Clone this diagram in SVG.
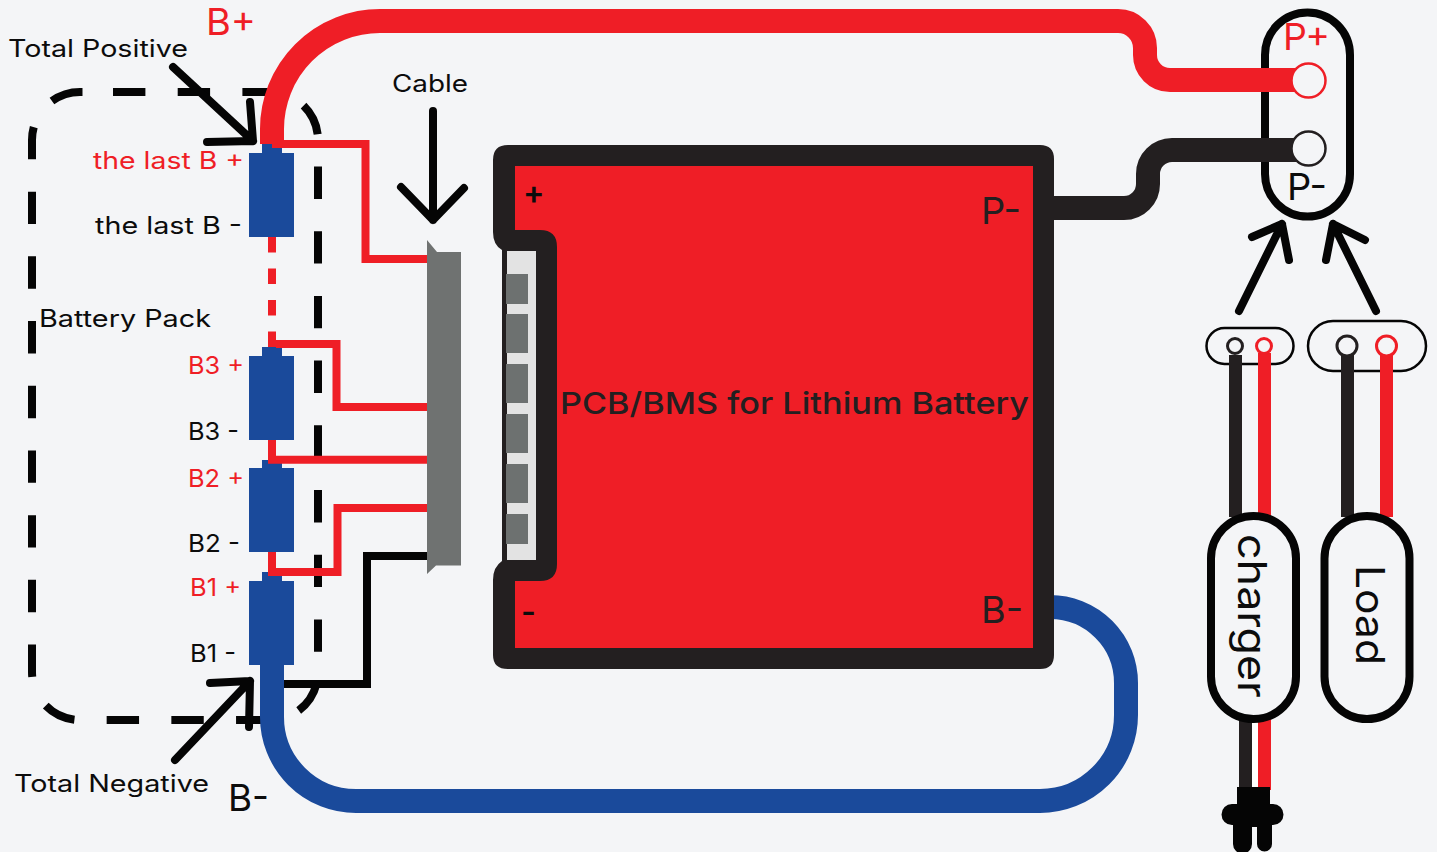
<svg xmlns="http://www.w3.org/2000/svg" width="1437" height="852" viewBox="0 0 1437 852">
<style>
text{font-family:Inter,"DejaVu Sans",sans-serif;fill:#0c0c0c}
.r{fill:#ef1e26}.d{fill:#231f20}
.lab{font-size:24px}.big{font-size:37px}
.line{fill:none;stroke-linejoin:miter}
.wr{stroke:#ef1e26;stroke-width:8}.wk{stroke:#050505;stroke-width:8}
.thick{stroke-width:24}
.arrow{fill:none;stroke:#050505;stroke-width:8;stroke-linecap:round;stroke-linejoin:round}
.cell{fill:#1a4a9b}
.pill{fill:#f4f5f7;stroke:#050505;stroke-width:8}
.term{fill:#6d7170}
</style>
<rect width="1437" height="852" fill="#f4f5f7"/>
<g id="pack-outline"><path d="M113 92H270A48 48 0 0 1 318 140V672A48 48 0 0 1 270 720H80A48 48 0 0 1 32 672V140A48 48 0 0 1 80 92Z" fill="none" stroke="#050505" stroke-width="8" stroke-dasharray="32.4 32.3"/></g>
<g id="arrows">
<path class="arrow" d="M173 67L253 141M207 142L253 141L250 102"/>
<path class="arrow" d="M175 760L250 681M210 683L250 681L249 727"/>
<path class="arrow" d="M433 111V220M401 187L433 220L464 188"/>
<path class="arrow" d="M1239 311L1282 224M1252 237L1282 224L1289 260"/>
<path class="arrow" d="M1376 311L1333 224M1365 240L1333 224L1326 260"/>
</g>
<g id="connector"><polygon points="427,240 437,252 461,252 461,565.500 436,565.500 427,574" fill="#6f7271"/></g>
<g id="batteries">
<g id="cell-last"><path class="cell" d="M262 144H282V153H294V237H249V153H262Z"/></g>
<g id="cell-b3"><path class="cell" d="M262 347H282V356H294V440H249V356H262Z"/></g>
<g id="cell-b2"><path class="cell" d="M262 460H282V468H294V552H249V468H262Z"/></g>
<g id="cell-b1"><path class="cell" d="M262 572H282V581H294V665H249V581H262Z"/></g>
</g>
<g id="p-port">
<rect class="pill" x="1265" y="12.500" width="85" height="204" rx="42.500"/>
<text class="r big" x="1283" y="50" textLength="47" lengthAdjust="spacingAndGlyphs">P+</text>
<text class="big" x="1287" y="200" textLength="40" lengthAdjust="spacingAndGlyphs">P-</text>
</g>
<g id="connectors">
<path class="line wr" d="M272 144H365.500V259H427"/>
<path class="line wr" d="M272 237V348" stroke-dasharray="15.500 16"/>
<path class="line wr" d="M276 344H336.500V407H427"/>
<path class="line wr" d="M272 440V459.700H427"/>
<path class="line wr" d="M272 552V572H337.500V508H427"/>
<path class="line wk" d="M284 684H367V556H427"/>
<path class="line thick" stroke="#ef1e26" d="M272 144V129A108 108 0 0 1 380 21H1118A27 27 0 0 1 1145 48V55A25 25 0 0 0 1170 80H1295"/>
<path class="line thick" stroke="#231f20" d="M1050 208H1124A24 24 0 0 0 1148 184V174A24 24 0 0 1 1172 150H1296"/>
<path class="line thick" stroke="#1a4a9b" d="M1050 607A76 76 0 0 1 1126 683V715A86 86 0 0 1 1040 801H356A84 84 0 0 1 272 717V665"/>
</g>
<g id="p-terminals">
<circle cx="1308.500" cy="80.500" r="17" fill="#f4f5f7" stroke="#ef1e26" stroke-width="2.500"/>
<circle cx="1308.500" cy="148.500" r="17" fill="#f4f5f7" stroke="#231f20" stroke-width="2.500"/>
</g>
<g id="pcb">
<path fill="#231f20" d="M508 145H1040Q1054 145 1054 159V655Q1054 669 1040 669H508Q493 669 493 655V580Q493 567 502 561V250Q493 245 493 232V160Q493 145 508 145Z"/>
<path fill="#ef1e26" d="M515 166H1033V648H515V581H540Q557 581 557 564V247Q557 230 540 230H515Z"/>
<rect x="507" y="251" width="29" height="309" fill="#e3e3e3"/>
<rect class="term" x="506" y="274" width="22" height="30"/>
<rect class="term" x="506" y="314" width="22" height="39"/>
<rect class="term" x="506" y="364" width="22" height="39"/>
<rect class="term" x="506" y="414" width="22" height="39"/>
<rect class="term" x="506" y="464" width="22" height="39"/>
<rect class="term" x="506" y="514" width="22" height="30"/>
<text x="523" y="204" font-size="32" font-weight="600">+</text>
<text x="521" y="623" font-size="32" font-weight="600">-</text>
<text class="d big" x="981" y="224" textLength="40" lengthAdjust="spacingAndGlyphs">P-</text>
<text class="d big" x="981" y="623" textLength="42" lengthAdjust="spacingAndGlyphs">B-</text>
<text class="d" x="560" y="414" font-size="30" font-weight="500" textLength="469" lengthAdjust="spacingAndGlyphs">PCB/BMS for Lithium Battery</text>
</g>
<g id="charger">
<rect x="1206.500" y="328" width="87" height="36" rx="18" fill="none" stroke="#050505" stroke-width="2.500"/>
<rect x="1229" y="355" width="13" height="162" fill="#231f20"/>
<rect x="1258" y="353" width="13" height="164" fill="#ef1e26"/>
<circle cx="1235" cy="346" r="7.500" fill="#f4f5f7" stroke="#231f20" stroke-width="3"/>
<circle cx="1264" cy="346" r="7.500" fill="#f4f5f7" stroke="#ef1e26" stroke-width="3"/>
<rect x="1252" y="715" width="6" height="75" fill="#fff"/>
<rect x="1239" y="715" width="13" height="75" fill="#231f20"/>
<rect x="1258" y="715" width="13" height="75" fill="#ef1e26"/>
<rect class="pill" x="1211" y="516" width="85" height="203" rx="42.500"/>
<text transform="translate(1238 534) rotate(90)" font-size="40" textLength="164" lengthAdjust="spacingAndGlyphs">charger</text>
<path fill="#050505" d="M1237 787H1270V804H1273A10.500 10.500 0 0 1 1273 825H1272V844A7.500 7.500 0 0 1 1257 844V827H1252V844A9.500 9.500 0 0 1 1233 844V825H1232A10 10 0 0 1 1232 804H1237Z"/>
</g>
<g id="load">
<rect x="1308" y="321" width="118" height="50" rx="25" fill="none" stroke="#050505" stroke-width="2.500"/>
<rect x="1341" y="355" width="13" height="162" fill="#231f20"/>
<rect x="1380" y="353" width="13" height="164" fill="#ef1e26"/>
<circle cx="1347" cy="346" r="10" fill="#f4f5f7" stroke="#231f20" stroke-width="3"/>
<circle cx="1386.500" cy="346" r="10" fill="#f4f5f7" stroke="#ef1e26" stroke-width="3"/>
<rect class="pill" x="1324.500" y="516" width="85" height="203" rx="42.500"/>
<text transform="translate(1356 565) rotate(90)" font-size="40" textLength="100" lengthAdjust="spacingAndGlyphs">Load</text>
</g>
<g id="labels">
<text class="r big" x="206" y="35" textLength="50" lengthAdjust="spacingAndGlyphs">B+</text>
<text class="lab" x="8" y="57" textLength="180" lengthAdjust="spacingAndGlyphs">Total Positive</text>
<text class="lab" x="392" y="92" textLength="76" lengthAdjust="spacingAndGlyphs">Cable</text>
<text class="r lab" x="93" y="169" textLength="151" lengthAdjust="spacingAndGlyphs">the last B +</text>
<text class="lab" x="95" y="234" textLength="147" lengthAdjust="spacingAndGlyphs">the last B -</text>
<text class="lab" x="39" y="327" textLength="172" lengthAdjust="spacingAndGlyphs">Battery Pack</text>
<text class="r lab" x="188" y="374" textLength="56" lengthAdjust="spacingAndGlyphs">B3 +</text>
<text class="lab" x="188" y="440" textLength="51" lengthAdjust="spacingAndGlyphs">B3 -</text>
<text class="r lab" x="188" y="487" textLength="56" lengthAdjust="spacingAndGlyphs">B2 +</text>
<text class="lab" x="188" y="552" textLength="52" lengthAdjust="spacingAndGlyphs">B2 -</text>
<text class="r lab" x="190" y="596" textLength="51" lengthAdjust="spacingAndGlyphs">B1 +</text>
<text class="lab" x="190" y="662" textLength="46" lengthAdjust="spacingAndGlyphs">B1 -</text>
<text class="lab" x="14" y="792" textLength="195" lengthAdjust="spacingAndGlyphs">Total Negative</text>
<text class="big" x="228" y="811" textLength="41" lengthAdjust="spacingAndGlyphs">B-</text>
</g>
</svg>
